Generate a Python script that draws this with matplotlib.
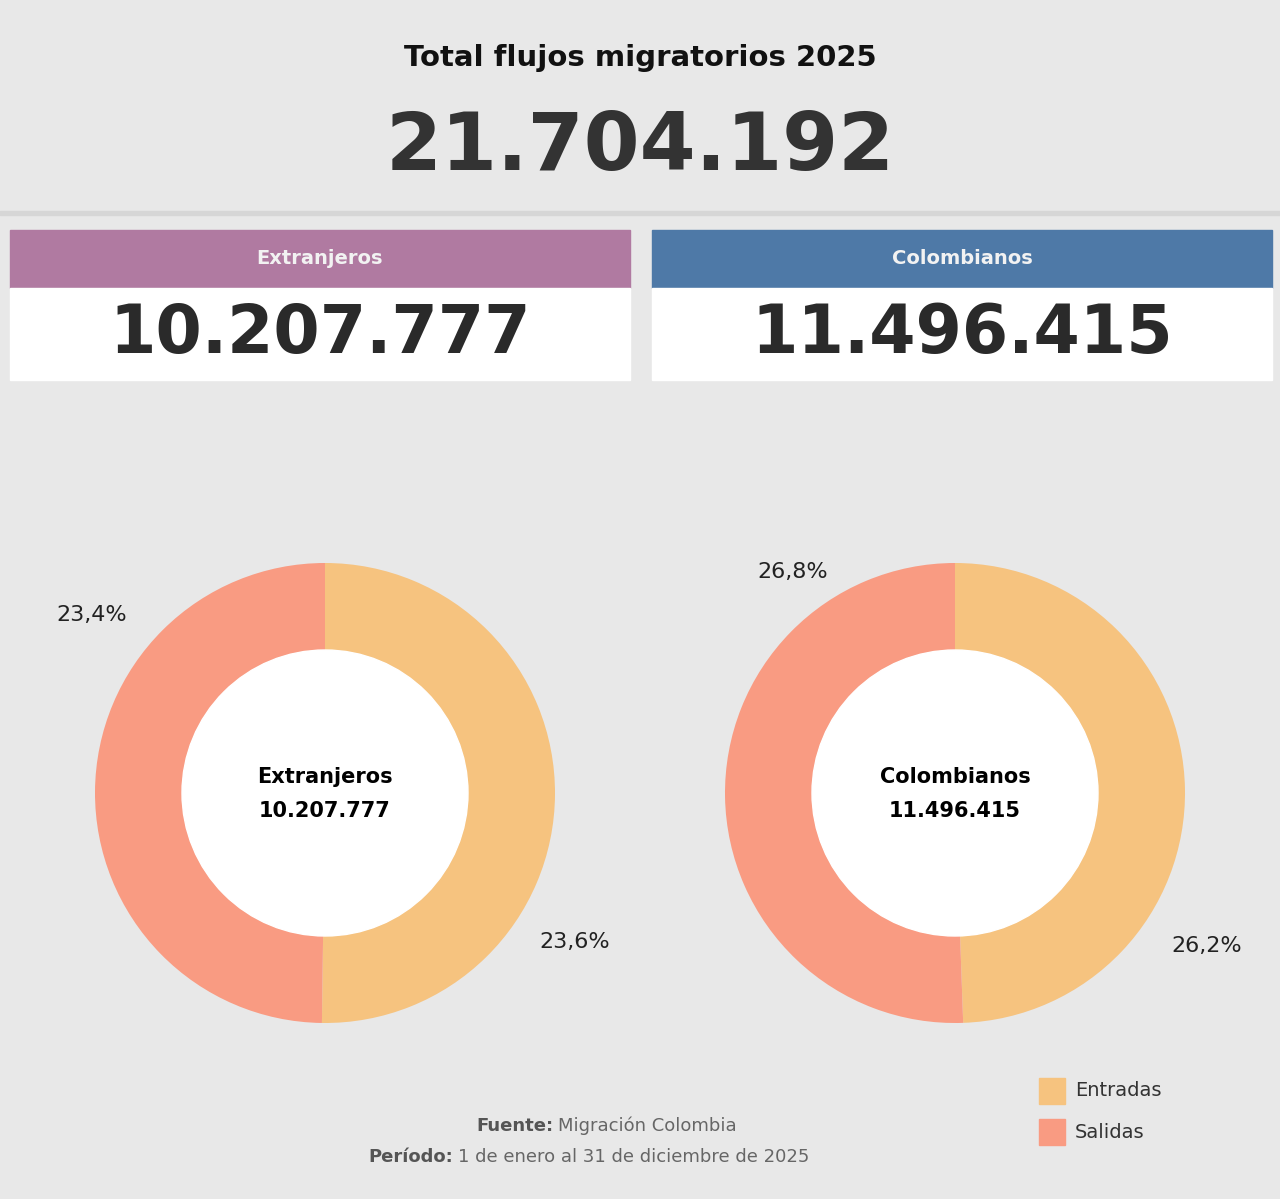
import matplotlib.pyplot as plt
from matplotlib.patches import Rectangle

W, H = 1280, 1199

total = "21.704.192"
groups = ["Extranjeros", "Colombianos"]
group_totals = ["10.207.777", "11.496.415"]
entradas_pct = [23.6, 26.2]
salidas_pct = [23.4, 26.8]
band_colors = ["#b07aa1", "#4e79a7"]
c_ent, c_sal = "#f6c37f", "#f99b82"
bg = "#e8e8e8"


def fx(x):
    return x / W


def fy(y):
    return 1 - y / H


fig = plt.figure(figsize=(W / 100, H / 100), dpi=100)
fig.patch.set_facecolor(bg)

# header
fig.patches.append(Rectangle((fx(0), fy(215)), 1, 4 / H, transform=fig.transFigure,
                             color="#d6d6d6", zorder=0))
fig.text(0.5, fy(58), "Total flujos migratorios 2025", ha="center", va="center",
         fontsize=21, fontweight="bold", color="#111111")
fig.text(0.5, fy(148), total, ha="center", va="center", fontsize=58,
         fontweight="bold", color="#333333")

# cards
for i, (name, val) in enumerate(zip(groups, group_totals)):
    x0 = 10 if i == 0 else 652
    w = 620
    fig.patches.append(Rectangle((fx(x0), fy(288)), w / W, 58 / H, transform=fig.transFigure,
                                 color=band_colors[i]))
    fig.patches.append(Rectangle((fx(x0), fy(380)), w / W, 92 / H, transform=fig.transFigure,
                                 color="white"))
    fig.text(fx(x0 + w / 2), fy(259), name, ha="center", va="center", fontsize=14,
             fontweight="bold", color="#f2f2f2")
    fig.text(fx(x0 + w / 2), fy(334), val, ha="center", va="center", fontsize=48,
             fontweight="bold", color="#2a2a2a")

# donuts
centers = [(325, 793), (955, 793)]
R = 230
label_pos = [((92, 615), (575, 942)), ((793, 572), (1207, 946))]
for i, (cx, cy) in enumerate(centers):
    ax = fig.add_axes([fx(cx - R), fy(cy + R), 2 * R / W, 2 * R / H])
    ax.pie([entradas_pct[i], salidas_pct[i]], colors=[c_ent, c_sal], startangle=90,
           counterclock=False, radius=1, wedgeprops=dict(width=1 - 143 / R))
    ax.add_patch(plt.Circle((0, 0), 143 / R, color="white"))
    ax.set_xlim(-1, 1)
    ax.set_ylim(-1, 1)
    ax.set_aspect("equal")
    ax.axis("off")
    ax.text(0, 0.07, groups[i], ha="center", va="center", fontsize=15, fontweight="bold")
    ax.text(0, -0.08, group_totals[i], ha="center", va="center", fontsize=15, fontweight="bold")
    (sx, sy), (ex, ey) = label_pos[i]
    fig.text(fx(sx), fy(sy), f"{salidas_pct[i]:.1f}%".replace(".", ","), ha="center",
             va="center", fontsize=16, color="#222222")
    fig.text(fx(ex), fy(ey), f"{entradas_pct[i]:.1f}%".replace(".", ","), ha="center",
             va="center", fontsize=16, color="#222222")

# legend
for y, lab, c in [(1091, "Entradas", c_ent), (1132, "Salidas", c_sal)]:
    fig.patches.append(Rectangle((fx(1039), fy(y + 13)), 26 / W, 26 / H,
                                 transform=fig.transFigure, color=c))
    fig.text(fx(1075), fy(y), lab, ha="left", va="center", fontsize=14, color="#333333")

# footer
fig.text(fx(553), fy(1126), "Fuente:", ha="right", va="center", fontsize=13,
         fontweight="bold", color="#555555")
fig.text(fx(558), fy(1126), "Migración Colombia", ha="left", va="center", fontsize=13,
         color="#666666")
fig.text(fx(453), fy(1157), "Período:", ha="right", va="center", fontsize=13,
         fontweight="bold", color="#555555")
fig.text(fx(458), fy(1157), "1 de enero al 31 de diciembre de 2025", ha="left",
         va="center", fontsize=13, color="#666666")

fig.savefig("out.png", dpi=100, facecolor=bg)
